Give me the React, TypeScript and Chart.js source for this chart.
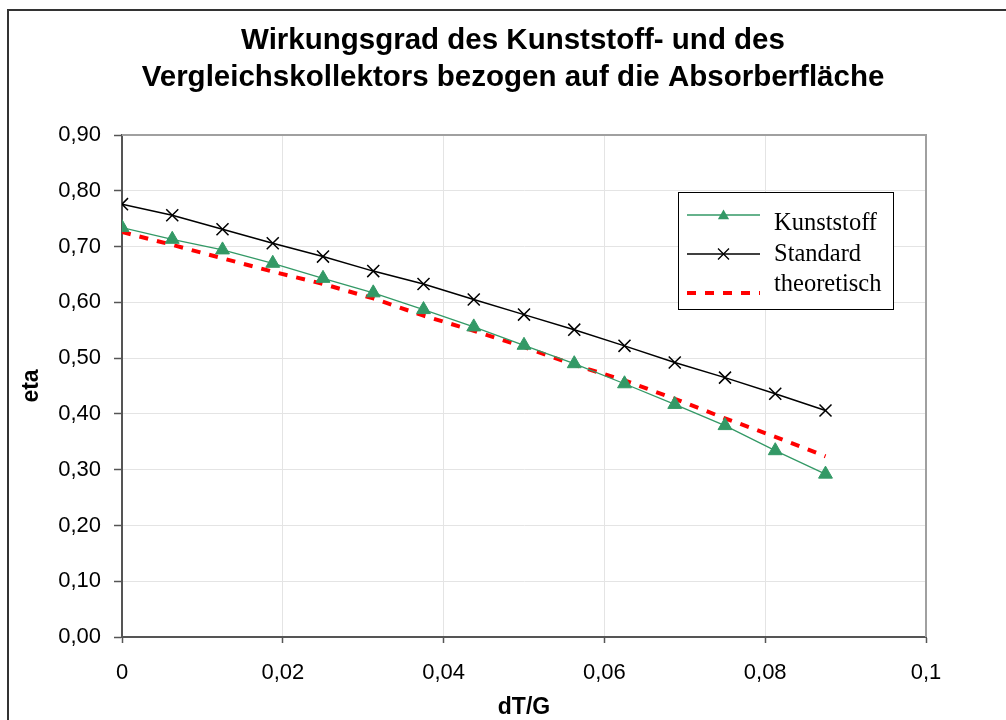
import React, { useEffect, useRef } from 'react';
import { Chart, registerables } from 'chart.js';

Chart.register(...registerables);

// ---- data ----
const dTG = [0, 0.00625, 0.0125, 0.01875, 0.025, 0.03125, 0.0375, 0.04375, 0.05, 0.05625, 0.0625, 0.06875, 0.075, 0.08125, 0.0875];
const kunststoff = [0.734, 0.713, 0.694, 0.670, 0.643, 0.617, 0.587, 0.556, 0.523, 0.490, 0.454, 0.417, 0.379, 0.334, 0.292];
const standard = [0.776, 0.756, 0.731, 0.706, 0.682, 0.656, 0.633, 0.605, 0.578, 0.551, 0.522, 0.492, 0.465, 0.436, 0.406];
const theoretisch = [0.726, 0.703, 0.679, 0.655, 0.633, 0.607, 0.576, 0.549, 0.520, 0.488, 0.460, 0.427, 0.392, 0.359, 0.324];

const seriesNames = ['Kunststoff', 'Standard', 'theoretisch'];
const titleLines = ['Wirkungsgrad des Kunststoff- und des', 'Vergleichskollektors bezogen auf die Absorberfläche'];
const xAxisTitle = 'dT/G';
const yAxisTitle = 'eta';

const toPoints = (ys: number[]) => ys.map((y, i) => ({ x: dTG[i], y }));

const fmtY = (v: number) => Number(v).toFixed(2).replace('.', ',');
const fmtX = (v: number) => String(Number(Number(v).toFixed(2))).replace('.', ',');

const customPlugin = {
  id: 'customDecor',
  beforeDraw(chart: any) {
    const ctx = chart.ctx;
    ctx.save();
    ctx.fillStyle = '#ffffff';
    ctx.fillRect(0, 0, chart.width, chart.height);
    ctx.strokeStyle = '#333333';
    ctx.lineWidth = 2;
    ctx.beginPath();
    ctx.moveTo(8, chart.height + 5);
    ctx.lineTo(8, 10);
    ctx.lineTo(chart.width + 5, 10);
    ctx.stroke();
    ctx.restore();
  },
  beforeDatasetsDraw(chart: any) {
    const { ctx, chartArea: a } = chart;
    ctx.save();
    ctx.strokeStyle = '#a0a0a0';
    ctx.lineWidth = 2;
    ctx.beginPath();
    ctx.moveTo(a.left, a.top);
    ctx.lineTo(a.right, a.top);
    ctx.lineTo(a.right, a.bottom);
    ctx.stroke();
    ctx.restore();
  },
  afterDraw(chart: any) {
    const ctx = chart.ctx;
    ctx.save();
    // title
    ctx.fillStyle = '#000';
    ctx.font = 'bold 29.5px "Liberation Sans", Arial, sans-serif';
    ctx.textAlign = 'center';
    ctx.textBaseline = 'alphabetic';
    ctx.fillText(titleLines[0], 513, 49);
    ctx.fillText(titleLines[1], 513, 86);

    // legend
    const bx = 678.5, by = 192.5, bw = 215, bh = 117;
    ctx.fillStyle = '#ffffff';
    ctx.fillRect(bx, by, bw, bh);
    ctx.strokeStyle = '#000';
    ctx.lineWidth = 1;
    ctx.setLineDash([]);
    ctx.strokeRect(bx, by, bw, bh);

    const rows = [
      { lineY: 215, textY: 230 },
      { lineY: 254, textY: 261 },
      { lineY: 293, textY: 291 },
    ];
    const ds = chart.data.datasets;
    rows.forEach((r, i) => {
      const d = ds[i];
      ctx.save();
      ctx.strokeStyle = d.borderColor;
      ctx.lineWidth = d.borderWidth;
      ctx.setLineDash(d.borderDash || []);
      ctx.beginPath();
      ctx.moveTo(687, r.lineY);
      ctx.lineTo(760, r.lineY);
      ctx.stroke();
      ctx.setLineDash([]);
      const cx = 723.5;
      if (d.pointStyle === 'triangle') {
        const rad = 6.5;
        const cy = r.lineY + 1;
        ctx.fillStyle = d.pointBackgroundColor;
        ctx.beginPath();
        ctx.moveTo(cx, cy - rad);
        ctx.lineTo(cx + rad * 0.866, cy + rad * 0.5);
        ctx.lineTo(cx - rad * 0.866, cy + rad * 0.5);
        ctx.closePath();
        ctx.fill();
      } else if (d.pointStyle === 'crossRot') {
        const h = 5.5;
        ctx.strokeStyle = d.pointBorderColor;
        ctx.lineWidth = 1.3;
        ctx.beginPath();
        ctx.moveTo(cx - h, r.lineY - h);
        ctx.lineTo(cx + h, r.lineY + h);
        ctx.moveTo(cx + h, r.lineY - h);
        ctx.lineTo(cx - h, r.lineY + h);
        ctx.stroke();
      }
      ctx.restore();
      ctx.fillStyle = '#000';
      ctx.font = '24.5px "Liberation Serif", "Times New Roman", serif';
      ctx.textAlign = 'left';
      ctx.textBaseline = 'alphabetic';
      ctx.fillText(d.label, 774, r.textY);
    });
    ctx.restore();
  },
};

export default function App() {
  const ref = useRef<HTMLCanvasElement | null>(null);

  useEffect(() => {
    if (!ref.current) return;
    const chart = new Chart(ref.current, {
      type: 'line',
      data: {
        datasets: [
          {
            label: seriesNames[0],
            data: toPoints(kunststoff),
            borderColor: '#339966',
            backgroundColor: '#339966',
            borderWidth: 1.3,
            pointStyle: 'triangle',
            pointRadius: 8,
            pointBorderWidth: 1,
            pointBackgroundColor: '#339966',
            pointBorderColor: '#339966',
            tension: 0,
          },
          {
            label: seriesNames[1],
            data: toPoints(standard),
            borderColor: '#000000',
            backgroundColor: '#000000',
            borderWidth: 1.5,
            pointStyle: 'crossRot',
            pointRadius: 8.5,
            pointBorderWidth: 1.5,
            pointBorderColor: '#000000',
            tension: 0,
          },
          {
            label: seriesNames[2],
            data: toPoints(theoretisch),
            borderColor: '#ff0000',
            backgroundColor: '#ff0000',
            borderWidth: 4,
            borderDash: [9, 9],
            pointRadius: 0,
            tension: 0,
          },
        ],
      } as any,
      options: {
        animation: false,
        responsive: false,
        devicePixelRatio: 1,
        layout: { padding: { left: 0, top: 135, right: 80, bottom: 0 } },
        plugins: {
          legend: { display: false },
          title: { display: false },
          tooltip: { enabled: false },
        },
        scales: {
          x: {
            type: 'linear',
            min: 0,
            max: 0.1,
            afterFit: (s: any) => { s.height = 83; },
            ticks: {
              stepSize: 0.02,
              callback: (v: any) => fmtX(v),
              color: '#000',
              font: { family: 'Liberation Sans', size: 22 },
              padding: 17,
              maxRotation: 0,
            },
            grid: { color: '#e4e4e4', lineWidth: 1, tickLength: 6, tickColor: '#555', tickWidth: 1.5 },
            border: { display: true, color: '#555', width: 2 },
            title: {
              display: true,
              text: xAxisTitle,
              color: '#000',
              font: { family: 'Liberation Sans', size: 23, weight: 'bold', lineHeight: 1 },
              padding: { top: 0, bottom: 0.5 },
            },
          },
          y: {
            type: 'linear',
            min: 0,
            max: 0.9,
            afterFit: (s: any) => { s.width = 122; },
            ticks: {
              stepSize: 0.1,
              callback: (v: any) => fmtY(v),
              color: '#000',
              font: { family: 'Liberation Sans', size: 22 },
              padding: 13,
            },
            grid: { color: '#e4e4e4', lineWidth: 1, tickLength: 8, tickColor: '#555', tickWidth: 1.5 },
            border: { display: true, color: '#555', width: 2 },
            title: {
              display: true,
              text: yAxisTitle,
              color: '#000',
              font: { family: 'Liberation Sans', size: 23, weight: 'bold', lineHeight: 1 },
              padding: { top: 20, bottom: 0 },
            },
          },
        },
      } as any,
      plugins: [customPlugin],
    });
    return () => chart.destroy();
  }, []);

  return (
    <div style={{ position: 'absolute', left: 0, top: 0, width: 1006, height: 720 }}>
      <canvas ref={ref} width={1006} height={720} style={{ width: 1006, height: 720, display: 'block' }} />
    </div>
  );
}
